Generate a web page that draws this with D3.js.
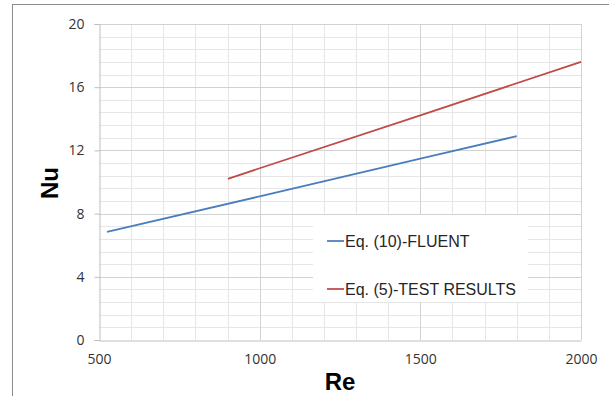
<!DOCTYPE html>
<html>
<head>
<meta charset="utf-8">
<script src="https://cdn.jsdelivr.net/npm/d3@7"></script>
<style>
  body { margin: 0; background: #fff; }
  svg { display: block; }
</style>
</head>
<body>
<div id="chart"></div>
<script>
//
// DATA
//
const fluentRe = [525, 1000, 1500, 1800]
const fluentNu = [6.84, 9.09, 11.48, 12.9]
const testRe = [901, 1000, 1500, 2000]
const testNu = [10.2, 10.87, 14.22, 17.6]
const seriesNames = ['Eq. (10)-FLUENT', 'Eq. (5)-TEST RESULTS']
const xTicks = [500, 1000, 1500, 2000]
const yTicks = [0, 4, 8, 12, 16, 20]

//
// GLOBALS
//
const width = 609
const height = 396
const plot = { left: 99, right: 581, top: 24, bottom: 340 }
const colors = ['#4a7ebb', '#be4b48']
const tickFont = '"Open Sans", "Liberation Sans", sans-serif'

const svg = d3.select('#chart').append('svg')
    .attr('width', width)
    .attr('height', height)

// outer chart frame (runs off the right and bottom edges)
svg.append('rect')
    .attr('x', 12.5).attr('y', 4.5)
    .attr('width', width).attr('height', height)
    .attr('fill', '#fff')
    .attr('stroke', '#8c8c8c')

const x = d3.scaleLinear().domain([500, 2000]).range([plot.left, plot.right])
const y = d3.scaleLinear().domain([0, 20]).range([plot.bottom, plot.top])

// minor grid: every 100 on x, every 0.8 on y
const grid = svg.append('g').attr('class', 'grid')
const minorX = d3.range(600, 2000, 100).filter(v => v % 500 !== 0)
const minorY = d3.range(0.8, 20, 0.8).filter(v => Math.abs(v / 4 - Math.round(v / 4)) > 0.01)
grid.selectAll('line.mx').data(minorX).join('line')
    .attr('x1', d => Math.round(x(d)) + 0.5).attr('x2', d => Math.round(x(d)) + 0.5)
    .attr('y1', plot.top).attr('y2', plot.bottom)
    .attr('stroke', '#e6e6e6')
grid.selectAll('line.my').data(minorY).join('line')
    .attr('y1', d => Math.round(y(d)) + 0.5).attr('y2', d => Math.round(y(d)) + 0.5)
    .attr('x1', plot.left).attr('x2', plot.right)
    .attr('stroke', '#e6e6e6')
// major grid
grid.selectAll('line.Mx').data(xTicks.slice(1)).join('line')
    .attr('x1', d => Math.round(x(d)) + 0.5).attr('x2', d => Math.round(x(d)) + 0.5)
    .attr('y1', plot.top).attr('y2', plot.bottom)
    .attr('stroke', '#d2d2d2')
grid.selectAll('line.My').data(yTicks.slice(1)).join('line')
    .attr('y1', d => Math.round(y(d)) + 0.5).attr('y2', d => Math.round(y(d)) + 0.5)
    .attr('x1', plot.left).attr('x2', plot.right)
    .attr('stroke', '#d2d2d2')

// axes
const xAxis = svg.append('g')
    .attr('transform', `translate(0,${plot.bottom + 0.5})`)
    .call(d3.axisBottom(x).tickValues(xTicks).tickFormat(d3.format('d')).tickSize(0).tickPadding(14))
const yAxis = svg.append('g')
    .attr('transform', `translate(${plot.left + 0.5},0)`)
    .call(d3.axisLeft(y).tickValues(yTicks).tickSize(5).tickPadding(10))
for (const ax of [xAxis, yAxis]) {
    ax.select('.domain').attr('stroke', '#bfbfbf')
    ax.selectAll('.tick line').attr('stroke', '#bfbfbf')
    ax.selectAll('.tick text')
        .attr('fill', '#333')
        .style('font-family', tickFont)
        .style('font-size', '14px')
}

// legend box (covers the grid)
svg.append('rect')
    .attr('x', 313).attr('y', 215)
    .attr('width', 215).attr('height', 87)
    .attr('fill', '#fff')

// series lines
const line = d3.line().x(d => x(d[0])).y(d => y(d[1]))
const series = [d3.zip(fluentRe, fluentNu), d3.zip(testRe, testNu)]
svg.selectAll('path.series').data(series).join('path')
    .attr('class', 'series')
    .attr('d', line)
    .attr('fill', 'none')
    .attr('stroke', (d, i) => colors[i])
    .attr('stroke-width', 1.75)

// legend entries
const legend = svg.selectAll('g.legend').data(seriesNames).join('g')
    .attr('class', 'legend')
    .attr('transform', (d, i) => `translate(327,${241 + i * 48})`)
legend.append('line')
    .attr('x1', 0).attr('x2', 17)
    .attr('stroke', (d, i) => colors[i])
    .attr('stroke-width', 1.75)
legend.append('text')
    .attr('x', 18).attr('dy', '0.35em')
    .attr('fill', '#262626')
    .style('font-family', '"Liberation Sans", Arial, sans-serif')
    .style('font-size', '16px')
    .text(d => d)

// axis titles
svg.append('text')
    .attr('x', 340).attr('y', 390)
    .attr('text-anchor', 'middle')
    .style('font-family', '"Liberation Sans", Arial, sans-serif')
    .style('font-weight', 'bold')
    .style('font-size', '24px')
    .text('Re')
svg.append('text')
    .attr('transform', 'translate(58,183) rotate(-90)')
    .attr('text-anchor', 'middle')
    .style('font-family', '"Liberation Sans", Arial, sans-serif')
    .style('font-weight', 'bold')
    .style('font-size', '24px')
    .text('Nu')
</script>
</body>
</html>
